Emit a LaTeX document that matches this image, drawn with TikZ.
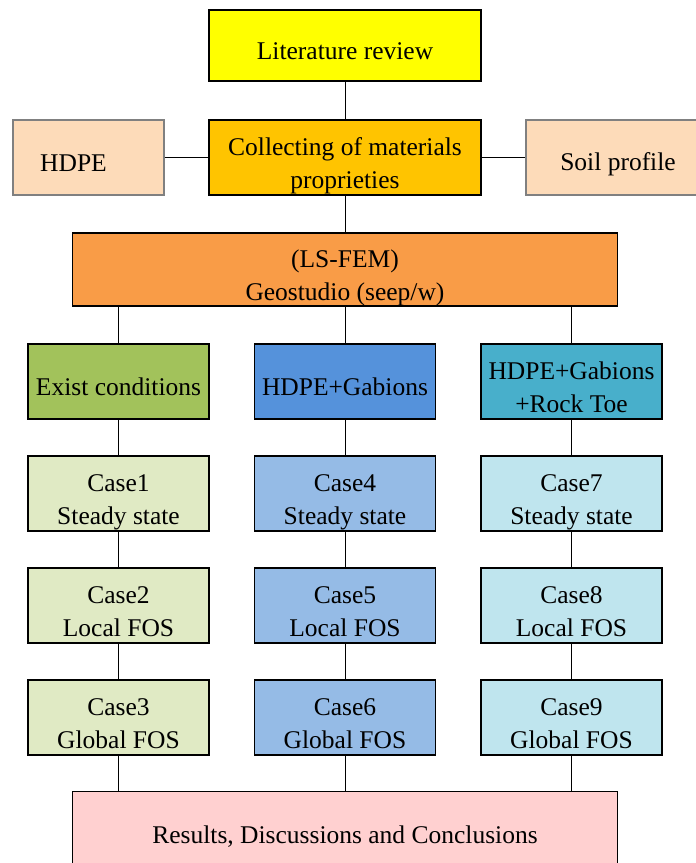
\documentclass[tikz,border=0pt]{standalone}
\usepackage{fontspec}
\setmainfont{Liberation Serif}
\usetikzlibrary{positioning}

\definecolor{litcol}{HTML}{FFFF00}
\definecolor{collcol}{HTML}{FFC400}
\definecolor{matcol}{HTML}{FDDBB9}
\definecolor{femcol}{HTML}{F99C47}
\definecolor{excol}{HTML}{A2C25B}
\definecolor{gabcol}{HTML}{5592DB}
\definecolor{rockcol}{HTML}{48AFCB}
\definecolor{exlight}{HTML}{E0EAC4}
\definecolor{gablight}{HTML}{95BBE6}
\definecolor{rocklight}{HTML}{BFE5EE}
\definecolor{rescol}{HTML}{FFD0D0}

\begin{document}
\begin{tikzpicture}[x=1pt,y=1pt,auto,node distance=112pt]
	\tikzstyle{box}=[rectangle,draw=black,line width=1.3pt,minimum width=181pt,minimum height=75pt,align=center,inner sep=2pt,font=\fontsize{25.5}{33}\selectfont,text height=28pt,text depth=0pt]
	\tikzstyle{twoline}=[box,text height=62pt]
	\tikzstyle{link}=[line width=0.9pt]
	\useasboundingbox (0,0) rectangle (696,-863);
		\node[box,fill=litcol,minimum width=272pt,minimum height=71pt] (lit) at (345,-45.5) {Literature review};
		\node[twoline,fill=collcol,minimum width=272pt] (coll) [below of=lit] {Collecting of materials\\proprieties};
		\node[box,fill=matcol,draw=black!50,minimum width=151pt,node distance=256.5pt] (hdpe) [left of=coll] {HDPE\hspace*{30pt}};
		\node[box,fill=matcol,draw=black!50,minimum width=184pt,node distance=273pt,text height=26pt] (soil) [right of=coll] {Soil profile};
		\node[twoline,fill=femcol,minimum width=545pt,minimum height=73pt] (fem) [below of=coll] {(LS-FEM)\\Geostudio (seep/w)};
		% three options
		\node[box,fill=gabcol] (gab) [below of=fem] {HDPE+Gabions};
		\node[box,fill=excol,node distance=226.5pt] (ex) [left of=gab] {Exist conditions};
		\node[twoline,fill=rockcol,node distance=226.5pt] (rock) [right of=gab] {HDPE+Gabions\\+Rock Toe};
		% cases
		\node[twoline,fill=exlight] (c1) [below of=ex] {Case1\\Steady state};
		\node[twoline,fill=exlight] (c2) [below of=c1] {Case2\\Local FOS};
		\node[twoline,fill=exlight] (c3) [below of=c2] {Case3\\Global FOS};
		\node[twoline,fill=gablight] (c4) [below of=gab] {Case4\\Steady state};
		\node[twoline,fill=gablight] (c5) [below of=c4] {Case5\\Local FOS};
		\node[twoline,fill=gablight] (c6) [below of=c5] {Case6\\Global FOS};
		\node[twoline,fill=rocklight] (c7) [below of=rock] {Case7\\Steady state};
		\node[twoline,fill=rocklight] (c8) [below of=c7] {Case8\\Local FOS};
		\node[twoline,fill=rocklight] (c9) [below of=c8] {Case9\\Global FOS};
		\node[box,fill=rescol,minimum width=545pt,minimum height=76pt] (res) [below of=c6] {Results, Discussions and Conclusions};
			\draw[link] (lit) edge (coll);
			\draw[link] (hdpe) edge (coll);
			\draw[link] (coll) edge (soil);
			\draw[link] (coll) edge (fem);
			\draw[link] (fem.south -| ex) edge (ex);
			\draw[link] (fem) edge (gab);
			\draw[link] (fem.south -| rock) edge (rock);
			\draw[link] (ex) edge (c1);
			\draw[link] (c1) edge (c2);
			\draw[link] (c2) edge (c3);
			\draw[link] (gab) edge (c4);
			\draw[link] (c4) edge (c5);
			\draw[link] (c5) edge (c6);
			\draw[link] (rock) edge (c7);
			\draw[link] (c7) edge (c8);
			\draw[link] (c8) edge (c9);
			\draw[link] (c3) edge (res.north -| c3);
			\draw[link] (c6) edge (res);
			\draw[link] (c9) edge (res.north -| c9);
\end{tikzpicture}
\end{document}
